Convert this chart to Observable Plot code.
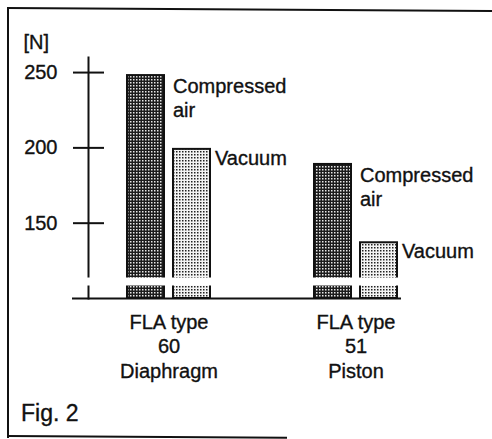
<!DOCTYPE html>
<html><head><meta charset="utf-8">
<script src="https://cdn.jsdelivr.net/npm/d3@7"></script>
<script src="https://cdn.jsdelivr.net/npm/@observablehq/plot@0.6"></script>
<style>
html,body{margin:0;padding:0;background:#fff;overflow:hidden}
#page{position:relative;width:492px;height:439px;font-family:"Liberation Sans",Arial,sans-serif;overflow:hidden}
#btop{position:absolute;left:7px;top:7px;width:495px;height:2px;background:#111;transform-origin:0 0;transform:rotate(0.35deg)}
#bleft{position:absolute;left:7px;top:7px;width:2px;height:431px;background:#111}
#bbottom{position:absolute;left:7px;top:435px;width:280px;height:2px;background:#111;transform-origin:0 0;transform:rotate(0.35deg)}
#chart{position:absolute;left:0;top:31px}
#chart svg text{stroke:#111;stroke-width:0.35px}
#fig{position:absolute;left:21px;top:402px;font-size:23px;line-height:23px;color:#111;-webkit-text-stroke:0.35px #111}
</style></head><body>
<div id="page"><div id="btop"></div><div id="bleft"></div><div id="bbottom"></div><div id="chart"></div><div id="fig">Fig. 2</div></div>
<script>
// ---- data ----
const groups = ["60", "51"];
const groupLabels = ["FLA type\n60\nDiaphragm", "FLA type\n51\nPiston"];
const seriesNames = ["Compressed air", "Vacuum"];
const seriesLabels = ["Compressed\nair", "Vacuum"];
const compressedAir = [248, 189];
const vacuum = [199, 137];
const yTicks = [150, 200, 250];
const yDomain = [100, 260];
const axisBreak = [108.3, 113.6];
const yLabel = "[N]";

const rows = groups.flatMap((g, i) => [
  {group: g, series: seriesNames[0], label: seriesLabels[0], value: compressedAir[i]},
  {group: g, series: seriesNames[1], label: seriesLabels[1], value: vacuum[i]}
]);
const caRows = rows.filter(d => d.series === seriesNames[0]);
const vacRows = rows.filter(d => d.series === seriesNames[1]);

const ink = "#111";
const chart = Plot.plot({
  width: 492,
  height: 360,
  marginLeft: 88,
  marginRight: 56,
  marginTop: 26,
  marginBottom: 93,
  style: {fontFamily: "Liberation Sans, Arial, sans-serif", fontSize: "20px", color: ink, background: "transparent", overflow: "visible"},
  x: {domain: groups, paddingInner: 0.8, paddingOuter: 0.33},
  y: {domain: yDomain},
  marks: [
    Plot.barY(caRows, {x: "group", y1: yDomain[0], y2: "value", dx: -23, fill: "url(#dotsDark)", stroke: ink, strokeWidth: 2}),
    Plot.barY(vacRows, {x: "group", y1: yDomain[0], y2: "value", dx: 23, fill: "url(#dotsLight)", stroke: ink, strokeWidth: 2}),
    Plot.frame({anchor: "left", stroke: ink, strokeWidth: 2}),
    Plot.rect([axisBreak], {y1: d => d[0], y2: d => d[1], fill: "white", insetLeft: -4}),
    Plot.ruleY([yDomain[0]], {stroke: ink, strokeWidth: 2, insetLeft: -16, insetRight: 35}),
    Plot.axisY(yTicks, {tickSize: 31, dx: 16, tickFormat: () => "", label: null, stroke: ink, strokeWidth: 2}),
    Plot.axisY(yTicks, {tickSize: 0, tickPadding: 31, label: yLabel, labelAnchor: "top", labelOffset: 65, labelArrow: "none", fontSize: 20}),
    Plot.axisX({tickSize: 0, tickPadding: 13, tickFormat: g => groupLabels[groups.indexOf(g)], lineHeight: 1.22, label: null, fontSize: 20}),
    Plot.text(caRows, {x: "group", y: "value", text: "label", dx: 4, dy: 0.5, textAnchor: "start", lineAnchor: "top", lineHeight: 1.2, fontSize: 20, fill: ink}),
    Plot.text(vacRows, {x: "group", y: "value", text: "label", dx: 46, dy: -1.5, textAnchor: "start", lineAnchor: "top", lineHeight: 1.2, fontSize: 20, fill: ink})
  ]
});

const defs = d3.select(chart).insert("defs", ":first-child");
const pd = defs.append("pattern").attr("id", "dotsDark").attr("width", 3).attr("height", 3).attr("patternUnits", "userSpaceOnUse");
pd.append("rect").attr("width", 3).attr("height", 3).attr("fill", "#1c1c1c");
pd.append("rect").attr("width", 1.5).attr("height", 1.5).attr("fill", "#e8e8e8");
const pl = defs.append("pattern").attr("id", "dotsLight").attr("width", 3).attr("height", 3).attr("patternUnits", "userSpaceOnUse");
pl.append("rect").attr("width", 3).attr("height", 3).attr("fill", "#f4f4f4");
pl.append("rect").attr("width", 1.5).attr("height", 1.5).attr("fill", "#222");

document.getElementById("chart").appendChild(chart);
</script>
</body></html>
